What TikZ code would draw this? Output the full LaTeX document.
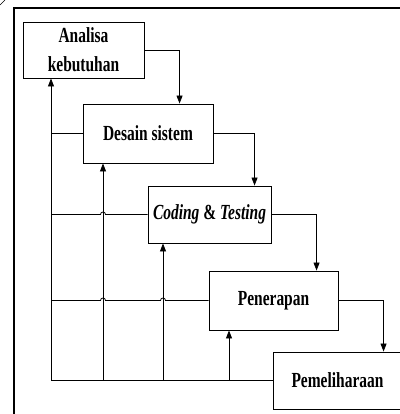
\documentclass[tikz,border=0pt]{standalone}
\usepackage{fontspec}
\setmainfont{Liberation Serif}[FakeStretch=0.72]
\usetikzlibrary{arrows.meta}
\begin{document}
\begin{tikzpicture}[x=1pt,y=-1pt,
  box/.style={draw,line width=0.9pt,inner sep=0pt,align=center,
    font=\fontsize{21.5}{29}\selectfont\bfseries},
  arr/.style={line width=0.8pt,-{Triangle[length=8pt,width=6pt]}},
  ln/.style={line width=0.8pt}]
\useasboundingbox (0,0) rectangle (399,414);
% frame
\draw[line width=1.3pt] (14,420) -- (14,8) -- (402,8);
\draw[line width=0.6pt] (0,5) -- (5,0);
% boxes
\node[box,minimum width=121pt,minimum height=56pt] (A) at (83.5,50) {Analisa\\kebutuhan};
\node[box,minimum width=130pt,minimum height=59pt] (D) at (148,133.5) {Desain sistem};
\node[box,minimum width=123pt,minimum height=57pt] (C) at (209.5,214.5) {\itshape Coding \upshape\&\itshape{} Testing};
\node[box,minimum width=129pt,minimum height=59pt] (P) at (273.5,300.5) {Penerapan};
\node[box,minimum width=129pt,minimum height=57pt] (M) at (337.5,380.5) {Pemeliharaan};
% vertical x positions
\coordinate (xa) at (51,0);
\coordinate (xb) at (103,0);
\coordinate (xc) at (163,0);
\coordinate (xd) at (229,0);
% forward arrows
\draw[arr] (A.east) -| ([xshift=97pt]D.north west);
\draw[arr] (D.east) -| ([xshift=107pt]C.north west);
\draw[arr] (C.east) -| ([xshift=108pt]P.north west);
\draw[arr] (P.east) -| ([xshift=111pt]M.north west);
% feedback
\draw[ln] (M.west) -- (M.west -| xa);
\draw[arr] (M.west -| xa) -- (A.south -| xa);
\draw[arr] (M.west -| xb) -- (D.south -| xb);
\draw[arr] (M.west -| xc) -- (C.south -| xc);
\draw[arr] (M.west -| xd) -- (P.south -| xd);
\draw[ln] (D.west) -- (D.west -| xa);
\draw[ln] (C.west) -- ([xshift=2.5pt]C.west -| xb)
  arc[start angle=0,end angle=180,radius=2.5pt] -- (C.west -| xa);
\draw[ln] (P.west) -- ([xshift=2.5pt]P.west -| xc)
  arc[start angle=0,end angle=180,radius=2.5pt]
  -- ([xshift=2.5pt]P.west -| xb)
  arc[start angle=0,end angle=180,radius=2.5pt] -- (P.west -| xa);
\end{tikzpicture}
\end{document}
